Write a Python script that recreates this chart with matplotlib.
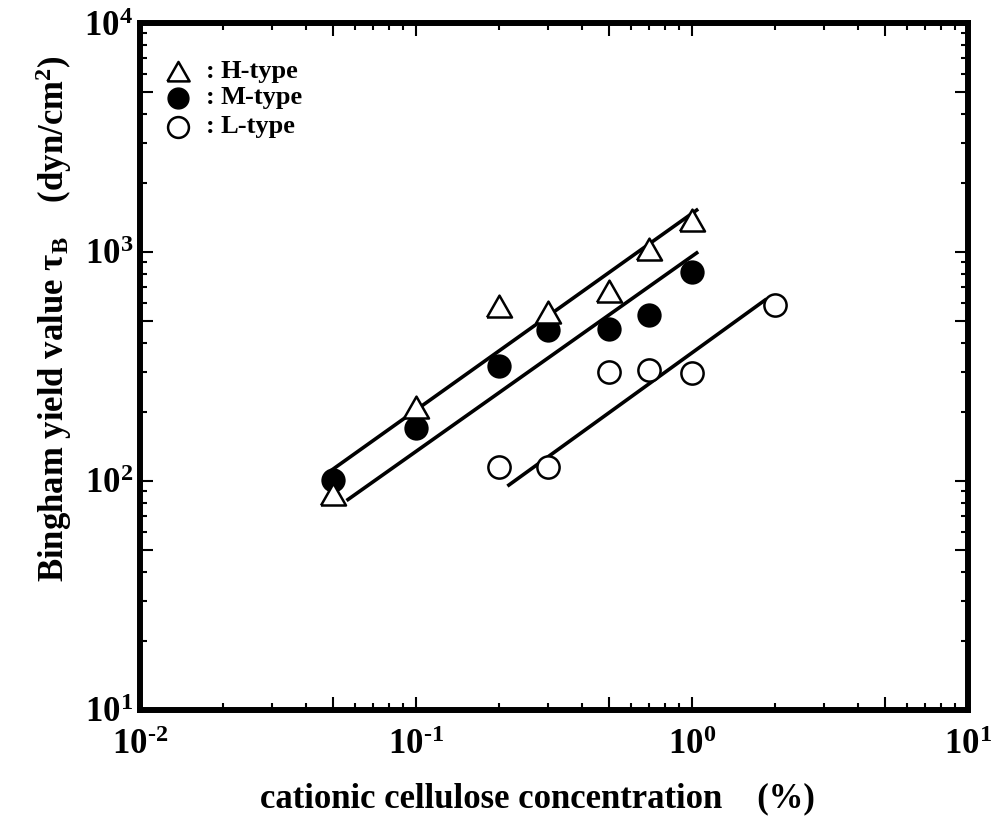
import matplotlib
matplotlib.use('Agg')
import matplotlib.pyplot as plt

plt.rcParams['font.family'] = 'Liberation Serif'
plt.rcParams['font.weight'] = 'bold'
plt.rcParams['axes.labelweight'] = 'bold'
plt.rcParams['mathtext.fontset'] = 'custom'
plt.rcParams['mathtext.rm'] = 'Liberation Serif:bold'
plt.rcParams['mathtext.bf'] = 'Liberation Serif:bold'
plt.rcParams['mathtext.it'] = 'Liberation Serif:bold'

# data
conc_H = [0.05, 0.1, 0.2, 0.3, 0.5, 0.7, 1.0]
tau_H = [87, 208, 575, 541, 668, 1020, 1365]
conc_M = [0.05, 0.1, 0.2, 0.3, 0.5, 0.7, 1.0]
tau_M = [101, 170, 318, 456, 461, 531, 818]
conc_L = [0.2, 0.3, 0.5, 0.7, 1.0, 2.0]
tau_L = [115, 115, 299, 305, 296, 587]

# fitted lines (end points)
fit_H_x = [0.0497, 1.04]
fit_H_y = [112, 1524]
fit_M_x = [0.0567, 1.04]
fit_M_y = [83, 991]
fit_L_x = [0.217, 1.84]
fit_L_y = [96, 617]

xmajor = [0.01, 0.05, 0.1, 0.5, 1, 5, 10]
xmajor_labels = ['10$^{\u20102}$', '', '10$^{\u20101}$', '', '10$^{0}$', '', '10$^{1}$']
ymajor = [10, 50, 100, 500, 1000, 5000, 10000]
ymajor_labels = ['10$^{1}$', '', '10$^{2}$', '', '10$^{3}$', '', '10$^{4}$']
minor_mult = [2, 3, 4, 6, 7, 8, 9]

tri = [(-1.0, -0.8), (1.0, -0.8), (0.0, 0.95), (-1.0, -0.8)]

fig = plt.figure(figsize=(10.03, 8.18), dpi=100)
ax = fig.add_axes([140/1003, 1-710/818, 828/1003, 687/818])
ax.set_xscale('log')
ax.set_yscale('log')
ax.set_xlim(0.01, 10)
ax.set_ylim(10, 10000)

for fx, fy in [(fit_H_x, fit_H_y), (fit_M_x, fit_M_y), (fit_L_x, fit_L_y)]:
    ax.plot(fx, fy, color='black', lw=2.6, zorder=2)

ax.plot(conc_M, tau_M, 'o', ms=16, mfc='black', mec='black', mew=1.5, zorder=3)
ax.plot(conc_L, tau_L, 'o', ms=16, mfc='white', mec='black', mew=1.8, zorder=3)
ax.plot(conc_H, tau_H, marker=tri, ls='none', ms=18, mfc='white', mec='black', mew=1.8, zorder=4)

# legend drawn by hand
leg_y = [0.929, 0.891, 0.849]
ax.plot([0.046], [leg_y[0]], marker=tri, ms=16, mfc='white', mec='black', mew=1.8,
        transform=ax.transAxes)
ax.plot([0.046], [leg_y[1]], 'o', ms=15, mfc='black', mec='black', transform=ax.transAxes)
ax.plot([0.046], [leg_y[2]], 'o', ms=15, mfc='white', mec='black', mew=1.8, transform=ax.transAxes)
for yy, lab in zip(leg_y, ['H-type', 'M-type', 'L-type']):
    ax.text(0.08, yy, ':', fontsize=19, va='center', ha='left', transform=ax.transAxes)
    ax.text(0.097, yy, lab, fontsize=19, va='center', ha='left', transform=ax.transAxes)

ax.set_xticks(xmajor, labels=xmajor_labels)
ax.set_yticks(ymajor, labels=ymajor_labels)
ax.set_xticks([m * 10.0**k for k in (-2, -1, 0) for m in minor_mult], minor=True)
ax.set_yticks([m * 10.0**k for k in (1, 2, 3) for m in minor_mult], minor=True)
ax.tick_params(which='both', direction='in', top=True, right=True, width=1.5)
ax.tick_params(which='major', length=9.5, labelsize=25)
ax.tick_params(axis='x', which='major', pad=14)
ax.tick_params(axis='y', which='major', pad=5)
ax.tick_params(which='minor', length=5)
for sp in ax.spines.values():
    sp.set_linewidth(4.3)

ax.set_xlabel('cationic cellulose concentration    (%)', fontsize=25, fontweight='bold')
ax.xaxis.set_label_coords(0.48, -0.105)
ax.set_ylabel(r'Bingham yield value τ$_\mathrm{B}$    (dyn/cm$^\mathrm{2}$)', fontsize=25,
              fontweight='bold')
ax.yaxis.set_label_coords(-0.08, 0.57)

fig.savefig('out.png', dpi=100)
